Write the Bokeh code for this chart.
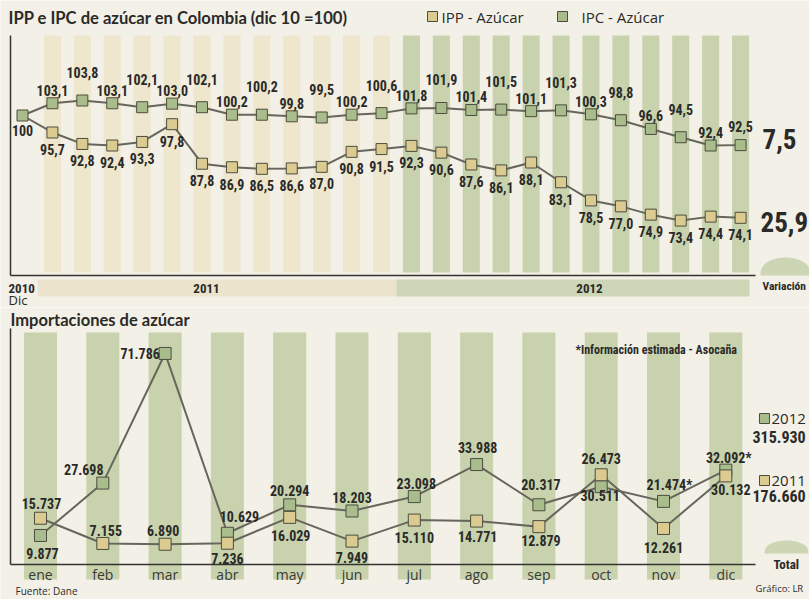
from bokeh.plotting import figure
from bokeh.layouts import column
from bokeh.models import Range1d, Label
from bokeh.core.properties import value
from bokeh.embed import file_html
from bokeh.resources import INLINE
import numpy as np

# ---------------- data ----------------
periodos = ["dic10", "ene11", "feb11", "mar11", "abr11", "may11", "jun11", "jul11", "ago11",
            "sep11", "oct11", "nov11", "dic11", "ene12", "feb12", "mar12", "abr12", "may12",
            "jun12", "jul12", "ago12", "sep12", "oct12", "nov12", "dic12"]
ipc_azucar = [100, 103.1, 103.8, 103.1, 102.1, 103.0, 102.1, 100.2, 100.2, 99.8, 99.5, 100.2,
              100.6, 101.8, 101.9, 101.4, 101.5, 101.1, 101.3, 100.3, 98.8, 96.6, 94.5, 92.4, 92.5]
ipp_azucar = [100, 95.7, 92.8, 92.4, 93.3, 97.8, 87.8, 86.9, 86.5, 86.6, 87.0, 90.8, 91.5,
              92.3, 90.6, 87.6, 86.1, 88.1, 83.1, 78.5, 77.0, 74.9, 73.4, 74.4, 74.1]
variacion_ipc = "7,5"
variacion_ipp = "25,9"
anios = ["2010", "2011", "2012"]

meses = ["ene", "feb", "mar", "abr", "may", "jun", "jul", "ago", "sep", "oct", "nov", "dic"]
imp_2012 = [9877, 27698, 71786, 10629, 20294, 18203, 23098, 33988, 20317, 26473, 21474, 32092]
imp_2011 = [15737, 7155, 6890, 7236, 16029, 7949, 15110, 14771, 12879, 30511, 12261, 30132]
estimado_2012 = [False] * 10 + [True, True]
total_2012 = "315.930"
total_2011 = "176.660"

# ---------------- styles ----------------
BG = "#f3f0e7"
INK = "#2a2a28"
LINE = "#66665c"
GREEN_M = "#a9bd8c"
TAN_M = "#dccb90"
STRIPE_TAN = "#eee6cd"
STRIPE_GREEN = "#c8d3ae"
MOUND = "#ccd6b4"
NARROW = "Liberation Sans Narrow, Roboto Condensed, DejaVu Sans Condensed, Roboto"
SANS = "Open Sans"

W = 809
TOP_H = 307
BOT_H = 599 - TOP_H

# pixel <-> data helpers (layout only)
T_X0, T_DX, T_Y100, T_SY = 22.0, 29.92, 115.0, 3.95
def tx(px): return (px - T_X0) / T_DX
def ty(py): return 100 + (T_Y100 - py) / T_SY
B_X0, B_DX, B_Y0, B_SY = 40.0, 62.3, 564.0, 2.94 / 1000
def bx(px): return (px - B_X0) / B_DX
def by(py): return (B_Y0 - py) / B_SY

def es(v):
    return f"{v:.1f}".replace(".", ",")
def miles(v):
    return f"{v:,}".replace(",", ".")

def base_fig(w, h, xr, yr):
    p = figure(width=w, height=h, x_range=Range1d(*xr), y_range=Range1d(*yr),
               output_backend="svg", toolbar_location=None, min_border=0)
    p.axis.visible = False
    p.grid.visible = False
    p.outline_line_color = None
    p.background_fill_color = BG
    p.border_fill_color = BG
    return p

def lab(p, x, y, t, size, bold=False, font=SANS, align="left", color=INK):
    p.add_layout(Label(x=x, y=y, text=t, text_font=font, text_font_size=size,
                       text_font_style="bold" if bold else "normal", text_align=align,
                       text_baseline="middle", text_color=color))

def mound(p, fx, fy, cx, base, half_w, h):
    t = np.linspace(0, np.pi, 40)
    xs = [fx(cx + half_w * np.cos(a)) for a in t]
    ys = [fy(base - h * np.sin(a) ** 0.8) for a in t]
    p.patch(xs, ys, color=MOUND, line_color=None)

# ================= TOP CHART =================
top = base_fig(W, TOP_H, (tx(0), tx(W)), (ty(TOP_H), ty(0)))
n = len(periodos)
idx = list(range(n))

# background stripes per month
s_x = idx[1:]
s_col = [STRIPE_TAN if i <= 12 else STRIPE_GREEN for i in s_x]
top.vbar(x=s_x, width=0.57, top=ty(35), bottom=ty(272), color=s_col, line_color=None)

# year bands under axis
top.quad(left=[0.5, 12.5], right=[12.5, 24.3], bottom=ty(296), top=ty(279),
         color=["#ebe3cc", "#cdd6b6"], line_color=None)

# axes lines
top.segment(x0=[tx(10), tx(10)], y0=[ty(35), ty(275)], x1=[tx(10), tx(755)], y1=[ty(275), ty(275)],
            line_color="#333330", line_width=1.5)

# series
top.line(idx, ipc_azucar, line_color=LINE, line_width=2)
top.line(idx, ipp_azucar, line_color=LINE, line_width=2)
top.scatter(idx, ipc_azucar, marker="square", size=11, fill_color=GREEN_M, line_color="#4c4c40", line_width=1)
top.scatter(idx[1:], ipp_azucar[1:], marker="square", size=11, fill_color=TAN_M, line_color="#4c4c40", line_width=1)

# value labels
ipc_up = [13 if i % 2 else 28 for i in idx]
ipc_up[-1] = 19
ipc_y = [v + u / T_SY for v, u in zip(ipc_azucar, ipc_up)][1:]
top.text(x=idx[1:], y=ipc_y, text=[es(v) for v in ipc_azucar[1:]], text_font=value(NARROW),
         text_font_size=value("14px"), text_font_style="bold", text_align="center",
         text_baseline="middle", text_color=INK)
ipp_y = [v - 17 / T_SY for v in ipp_azucar][1:]
top.text(x=idx[1:], y=ipp_y, text=[es(v) for v in ipp_azucar[1:]], text_font=value(NARROW),
         text_font_size=value("14px"), text_font_style="bold", text_align="center",
         text_baseline="middle", text_color=INK)
top.text(x=[0], y=[ipp_azucar[0] - 15 / T_SY], text=["100"], text_font=value(NARROW),
         text_font_size=value("14px"), text_font_style="bold", text_align="center",
         text_baseline="middle", text_color=INK)

# title & legend
lab(top, tx(8), ty(17), "IPP e IPC de azúcar en Colombia (dic 10 =100)", "16.6px", bold=True, font="Lato")
top.scatter([tx(432)], [ty(16)], marker="square", size=10, fill_color=TAN_M, line_color="#4c4c40")
lab(top, tx(441), ty(16), "IPP - Azúcar", "15px")
top.scatter([tx(562)], [ty(16)], marker="square", size=10, fill_color=GREEN_M, line_color="#4c4c40")
lab(top, tx(581), ty(16), "IPC - Azúcar", "15px")

# variation figures
lab(top, tx(762), ty(138), variacion_ipc, "27px", bold=True, font=NARROW)
lab(top, tx(760), ty(221), variacion_ipp, "27px", bold=True, font=NARROW)
mound(top, tx, ty, 785, 275, 25, 18)
lab(top, tx(762), ty(285), "Variación", "11.5px", bold=True, font=NARROW)

# years
lab(top, tx(8), ty(288), anios[0], "13px", bold=True, font=NARROW)
lab(top, tx(8), ty(299), "Dic", "13px")
lab(top, tx(206), ty(288), anios[1], "13px", bold=True, font=NARROW, align="center")
lab(top, tx(589), ty(288), anios[2], "13px", bold=True, font=NARROW, align="center")

# ================= BOTTOM CHART =================
bot = base_fig(W, BOT_H, (bx(0), bx(W)), (by(599), by(TOP_H)))
m = list(range(len(meses)))

bot.vbar(x=m, width=0.53, top=by(332), bottom=by(579), color=STRIPE_GREEN, line_color=None)
bot.segment(x0=[bx(10), bx(10)], y0=[by(328), 0], x1=[bx(10), bx(755)], y1=[0, 0],
            line_color="#333330", line_width=1.5)

bot.line(m, imp_2012, line_color=LINE, line_width=2)
bot.line(m, imp_2011, line_color=LINE, line_width=2)
bot.scatter(m, imp_2012, marker="square", size=12, fill_color=GREEN_M, line_color="#4c4c40", line_width=1)
bot.scatter(m, imp_2011, marker="square", size=12, fill_color=TAN_M, line_color="#4c4c40", line_width=1)

# label offsets in px (dx right, dy down)
off_2012 = [(2, 18), (-19, -14), (-25, 0), (12, -17), (0, -14), (0, -13), (2, -13), (1, -17),
            (2, -20), (0, -28), (6, -16), (3, -12)]
off_2011 = [(1, -15), (3, -13), (-2, -14), (0, 15), (1, 18), (0, 16), (0, 17), (1, 15),
            (2, 14), (-1, 21), (0, 19), (5, 14)]
t12 = [miles(v) + ("*" if e else "") for v, e in zip(imp_2012, estimado_2012)]
t11 = [miles(v) for v in imp_2011]
for vals, offs, txts in ((imp_2012, off_2012, t12), (imp_2011, off_2011, t11)):
    bot.text(x=[i + dx / B_DX for i, (dx, dy) in zip(m, offs)],
             y=[v - dy / B_SY for v, (dx, dy) in zip(vals, offs)],
             text=txts, text_font=value(NARROW), text_font_size=value("14px"),
             text_font_style="bold", text_align="center", text_baseline="middle", text_color=INK)

bot.text(x=m, y=by(574), text=meses, text_font=value(SANS), text_font_size=value("14px"),
         text_align="center", text_baseline="middle", text_color="#3a3a36")

lab(bot, bx(10), by(319), "Importaciones de azúcar", "16.5px", bold=True, font="Lato")
lab(bot, bx(575), by(349), "*Información estimada - Asocaña", "12px", bold=True, font=NARROW)

bot.scatter([bx(764)], [by(418)], marker="square", size=10, fill_color=GREEN_M, line_color="#4c4c40")
lab(bot, bx(771), by(418), anios[2], "15px")
lab(bot, bx(752), by(436), total_2012, "16px", bold=True, font=NARROW)
bot.scatter([bx(764)], [by(480)], marker="square", size=10, fill_color=TAN_M, line_color="#4c4c40")
lab(bot, bx(771), by(480), anios[1], "15px")
lab(bot, bx(752), by(495), total_2011, "16px", bold=True, font=NARROW)
mound(bot, bx, by, 786, 553, 22, 13)
lab(bot, bx(773), by(564), "Total", "13px", bold=True, font=NARROW)
lab(bot, bx(755), by(588), "Gráfico: LR", "9.5px")
lab(bot, bx(15), by(590), "Fuente: Dane", "10px")

layout = column(top, bot, spacing=0)
open("out.html", "w").write(file_html(layout, INLINE))
